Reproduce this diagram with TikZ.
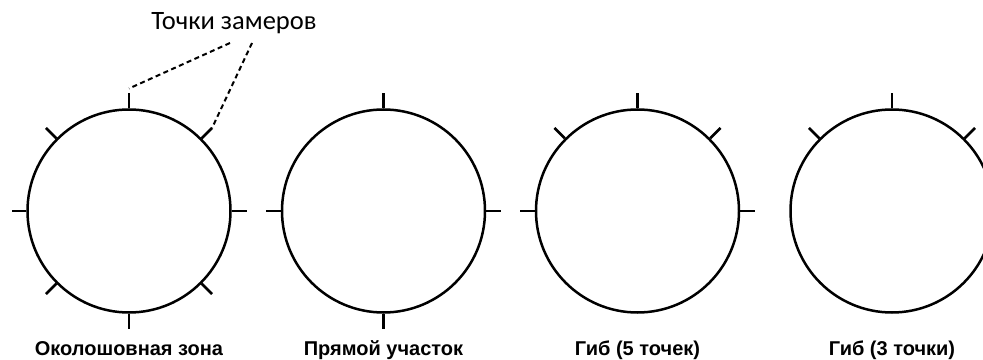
\documentclass[tikz,border=0pt]{standalone}
\usepackage{fontspec}
\setmainfont{Liberation Sans}
\newfontfamily\carlito{Carlito}
\usetikzlibrary{calc}

\begin{document}
\begin{tikzpicture}[x=1pt, y=1pt,
        pipe/.style={circle,draw=black,line width=2.5pt,minimum size=203pt,inner sep=0pt},
        probe/.style={line width=2.5pt},
        caption/.style={anchor=base,font=\bfseries\fontsize{20}{22}\selectfont},
        lead/.style={line width=2pt,dash pattern=on 5pt off 3.5pt}]
        \useasboundingbox (0,0) rectangle (983,359);
        \node[pipe] at (129,148)   (c1) {};
        \node[pipe] at (383.5,148) (c2) {};
        \node[pipe] at (637.5,148) (c3) {};
        \node[pipe] at (892,148)   (c4) {};
        % measuring points
        \foreach \c/\angs in {c1/{0,45,90,135,180,225,270,315},
                              c2/{0,90,180,270},
                              c3/{0,45,90,135,180},
                              c4/{45,90,135}}
          \foreach \a in \angs {
            \coordinate (\c-\a) at ($(\c)+(\a:117.5)$);
            \draw[probe] (\c.\a) -- (\c-\a);
          }
        \node[caption] at (129,4)   (n1) {Околошовная зона};
        \node[caption] at (383.5,4) (n2) {Прямой участок};
        \node[caption] at (637.5,4) (n3) {Гиб (5 точек)};
        \node[caption] at (892,4)   (n4) {Гиб (3 точки)};
        \node[anchor=base,font=\carlito\fontsize{26.5}{28}\selectfont] at (234,329) (pts) {Точки замеров};
        \coordinate (d1) at (230,316);
        \coordinate (d2) at (252,316);
        \draw[lead] (d1) -- ($(c1-90)+(0,5)$);
        \draw[lead] (d2) -- (c1-45);
      \end{tikzpicture}
\end{document}
